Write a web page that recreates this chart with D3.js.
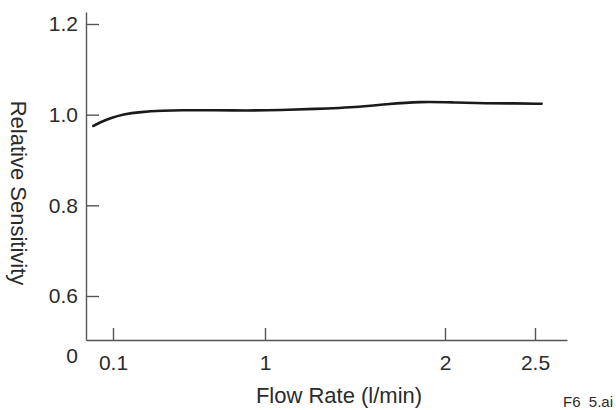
<!DOCTYPE html>
<html>
<head>
<meta charset="utf-8">
<script src="https://cdn.jsdelivr.net/npm/d3@7"></script>
<style>
  body { margin: 0; background: #fff; }
  text { font-family: "Liberation Sans", Arial, sans-serif; fill: #2b2b2b; }
</style>
</head>
<body>
<svg id="chart" width="616" height="410"></svg>
<script>
// flow rate (l/min) and relative sensitivity
const flowRate = [0.027, 0.052, 0.089, 0.161, 0.26, 0.398, 0.497, 0.692, 0.892, 1.083,
  1.306, 1.361, 1.489, 1.676, 1.861, 2.044, 2.231, 2.38, 2.537];
const sensitivity = [0.975, 0.983, 0.992, 1.001, 1.006, 1.009, 1.010, 1.010, 1.009, 1.010,
  1.013, 1.014, 1.016, 1.023, 1.029, 1.027, 1.025, 1.025, 1.024];
const xTicks = [0.1, 1, 2, 2.5];
const xTickLabels = ["0.1", "1", "2", "2.5"];
const yTicks = [0.6, 0.8, 1.0, 1.2];

const svg = d3.select("#chart");

// broken axes: the x scale is squeezed below 0.1, the y scale jumps from 0 to 0.6
const x = d3.scaleLinear()
  .domain([0, 0.1, 1, 2.5, 2.68])
  .range([86, 113, 265, 535, 567]);
const y = d3.scaleLinear()
  .domain([0, 0.6, 1.2, 1.227])
  .range([340, 296, 24, 12]);

const xAxis = svg.append("g")
  .attr("transform", `translate(0, ${y(0)})`)
  .call(d3.axisBottom(x).tickValues(xTicks)
    .tickFormat((d, i) => xTickLabels[i])
    .tickSizeInner(-12).tickSizeOuter(0).tickPadding(15));
const yAxis = svg.append("g")
  .attr("transform", `translate(${x(0)}, 0)`)
  .call(d3.axisLeft(y).tickValues(yTicks).tickFormat(d3.format(".1f"))
    .tickSizeInner(-13).tickSizeOuter(0).tickPadding(8));

[xAxis, yAxis].forEach((g) => {
  g.selectAll("path, line").attr("stroke", "#555").attr("stroke-width", 1.4);
  g.selectAll("text").attr("font-size", 21).attr("fill", "#2b2b2b")
    .attr("font-family", "'Liberation Sans', Arial, sans-serif");
});

// the lone "0" at the origin
svg.append("text")
  .attr("x", x(0) - 8)
  .attr("y", y(0) + 23)
  .attr("text-anchor", "end")
  .attr("font-size", 21)
  .text("0");

const line = d3.line()
  .x((d, i) => x(flowRate[i]))
  .y((d) => y(d))
  .curve(d3.curveBasis);

svg.append("path")
  .datum(sensitivity)
  .attr("fill", "none")
  .attr("stroke", "#1a1a1a")
  .attr("stroke-width", 2.6)
  .attr("stroke-linecap", "round")
  .attr("d", line);

svg.append("text")
  .attr("x", 339)
  .attr("y", 403)
  .attr("text-anchor", "middle")
  .attr("font-size", 22)
  .text("Flow Rate (l/min)");

svg.append("text")
  .attr("transform", "translate(11, 193) rotate(90)")
  .attr("text-anchor", "middle")
  .attr("font-size", 22)
  .text("Relative Sensitivity");

svg.append("text")
  .attr("x", 563)
  .attr("y", 407)
  .attr("font-size", 15)
  .style("white-space", "pre")
  .text("F6  5.ai");
</script>
</body>
</html>
